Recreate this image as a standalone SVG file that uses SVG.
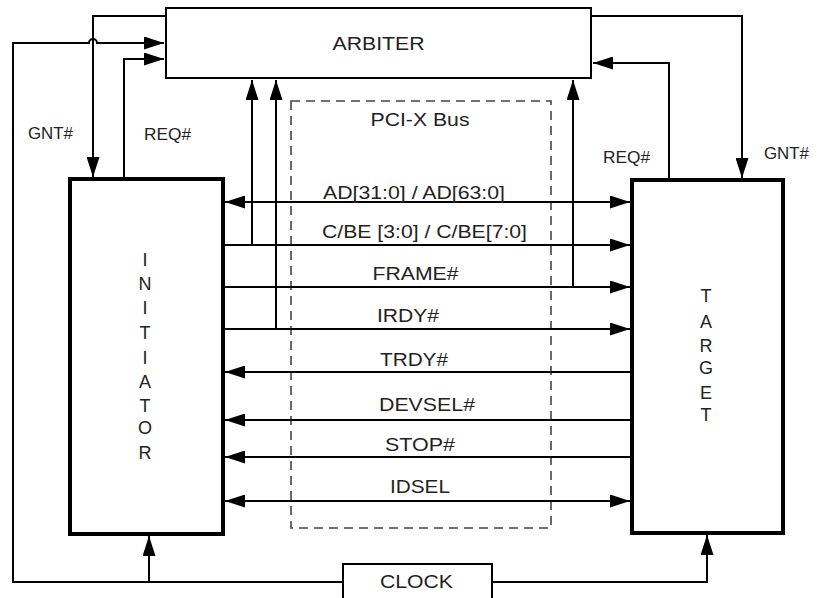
<svg xmlns="http://www.w3.org/2000/svg" width="820" height="598" viewBox="0 0 820 598">
<defs>
<marker id="ah" markerUnits="userSpaceOnUse" markerWidth="20" markerHeight="13" refX="20" refY="6.5" orient="auto-start-reverse" viewBox="0 0 20 13">
<path d="M0,0 L20,6.5 L0,13 Z" fill="#000"/>
</marker>
</defs>
<style>
.box{fill:#fff;stroke:#000}
.thick{stroke-width:4}
.thin{stroke-width:2}
.dash{fill:none;stroke:#444;stroke-width:1.6;stroke-dasharray:9,6}
.w{fill:none;stroke:#000;stroke-width:2}
.a{marker-end:url(#ah)}
.b{marker-start:url(#ah);marker-end:url(#ah)}
text{font-family:"Liberation Sans",Arial,sans-serif;fill:#222}
.lbl{font-size:18px;text-anchor:middle}
.side{font-size:16px;text-anchor:middle}
.v{font-size:18px;text-anchor:middle}
</style>
<rect fill="#fff" x="0" y="0" width="820" height="598"/>
<g id="pci-bus">
<rect class="dash" x="291" y="101" width="260" height="427"/>
<text class="lbl" x="420" y="126" textLength="99" lengthAdjust="spacingAndGlyphs">PCI-X Bus</text>
</g>
<g id="connectors">
<!-- GNT left -->
<path class="w a" d="M166,16 H93 V177"/>
<!-- clock to arbiter with hop -->
<path class="w a" d="M343,582 H13 V43 H89 A4,4 0 0 1 97,43 H164"/>
<!-- REQ left -->
<path class="w a" d="M124,179 V59 H164"/>
<!-- REQ right -->
<path class="w a" d="M669,180 V63 H593"/>
<!-- GNT right -->
<path class="w a" d="M591,16 H742 V178"/>
<!-- clock branches -->
<path class="w a" d="M149,582 V536"/>
<path class="w a" d="M492,582 H707 V535"/>
<!-- verticals to arbiter -->
<path class="w a" d="M252,245 V80"/>
<path class="w a" d="M276,329 V80"/>
<path class="w a" d="M573,287 V80"/>
<!-- bus signals -->
<path class="w b" d="M225,202 H630"/>
<path class="w a" d="M223,245 H630"/>
<path class="w a" d="M223,287 H630"/>
<path class="w a" d="M223,329 H630"/>
<path class="w a" d="M632,372 H225"/>
<path class="w a" d="M632,420 H225"/>
<path class="w a" d="M632,457 H225"/>
<path class="w b" d="M225,501 H630"/>
</g>
<g id="labels">
<text class="lbl" x="414" y="198.5" textLength="182" lengthAdjust="spacingAndGlyphs">AD[31:0] / AD[63:0]</text>
<text class="lbl" x="424.5" y="238" textLength="205" lengthAdjust="spacingAndGlyphs">C/BE [3:0] / C/BE[7:0]</text>
<text class="lbl" x="415.5" y="280" textLength="86" lengthAdjust="spacingAndGlyphs">FRAME#</text>
<text class="lbl" x="408" y="321.5" textLength="62" lengthAdjust="spacingAndGlyphs">IRDY#</text>
<text class="lbl" x="414" y="366" textLength="68" lengthAdjust="spacingAndGlyphs">TRDY#</text>
<text class="lbl" x="427" y="410.5" textLength="96" lengthAdjust="spacingAndGlyphs">DEVSEL#</text>
<text class="lbl" x="420" y="450.5" textLength="70" lengthAdjust="spacingAndGlyphs">STOP#</text>
<text class="lbl" x="420" y="492.5" textLength="60" lengthAdjust="spacingAndGlyphs">IDSEL</text>
<text class="side" x="50.5" y="139" textLength="45" lengthAdjust="spacingAndGlyphs">GNT#</text>
<text class="side" x="167.5" y="140" textLength="47" lengthAdjust="spacingAndGlyphs">REQ#</text>
<text class="side" x="626.5" y="163" textLength="47" lengthAdjust="spacingAndGlyphs">REQ#</text>
<text class="side" x="786.5" y="159" textLength="45" lengthAdjust="spacingAndGlyphs">GNT#</text>
</g>
<g id="arbiter">
<rect class="box thin" x="166" y="8" width="425" height="70"/>
<text class="lbl" x="378.5" y="49.5" textLength="92" lengthAdjust="spacingAndGlyphs">ARBITER</text>
</g>
<g id="initiator">
<rect class="box thick" x="70" y="179" width="153" height="355"/>
<text class="v" x="145" y="265.5">I</text>
<text class="v" x="145" y="289.5">N</text>
<text class="v" x="145" y="313.5">I</text>
<text class="v" x="145" y="338.5">T</text>
<text class="v" x="145" y="363.5">I</text>
<text class="v" x="145" y="387.5">A</text>
<text class="v" x="145" y="411.5">T</text>
<text class="v" x="145" y="433.5">O</text>
<text class="v" x="145" y="458.5">R</text>
</g>
<g id="target">
<rect class="box thick" x="632" y="180" width="151" height="353"/>
<text class="v" x="706" y="301.5">T</text>
<text class="v" x="706" y="327.5">A</text>
<text class="v" x="706" y="351.5">R</text>
<text class="v" x="706" y="373.5">G</text>
<text class="v" x="706" y="398.5">E</text>
<text class="v" x="706" y="420.5">T</text>
</g>
<g id="clock">
<rect class="box thin" x="343" y="564" width="149" height="40"/>
<text class="lbl" x="416.5" y="588" textLength="73" lengthAdjust="spacingAndGlyphs">CLOCK</text>
</g>
</svg>
